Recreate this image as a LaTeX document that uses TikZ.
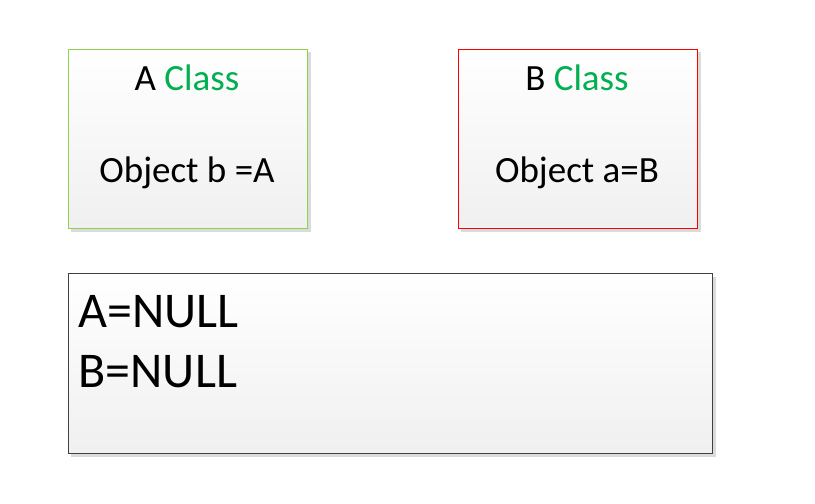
\documentclass[tikz,border=0pt]{standalone}
\usepackage{fontspec}
\setmainfont{Carlito}
\definecolor{classgreen}{HTML}{00B050}
\definecolor{boxgreen}{HTML}{92D050}
\definecolor{boxred}{HTML}{FF0000}
\definecolor{boxgray}{HTML}{404040}
\tikzset{
  panel/.style={top color=white, bottom color=black!6, line width=0.8pt},
  panelshadow/.style={fill=black!14, draw=none},
  midtext/.style={anchor=base, font=\fontsize{37}{44}\selectfont},
  bigtext/.style={anchor=base west, font=\fontsize{50}{60}\selectfont}
}
\begin{document}
\begin{tikzpicture}[x=1pt, y=-1pt]
\useasboundingbox (0,0) rectangle (815,504);

% Shadows behind the boxes
\fill[panelshadow] (71,52) rectangle +(240,180);
\fill[panelshadow] (461,52) rectangle +(240,180);
\fill[panelshadow] (71,277) rectangle +(645,180);

% The two class boxes
\draw[panel, draw=boxgreen] (68,49) rectangle (307,228);
\node[midtext] (aname) at (187,90) {A \textcolor{classgreen}{Class}};
\node[midtext] (aobj) at (187,182) {Object b =A};

\draw[panel, draw=boxred] (458,49) rectangle (697,228);
\node[midtext] (bname) at (577,90) {B \textcolor{classgreen}{Class}};
\node[midtext] (bobj) at (577,182) {Object a=B};

% The box with the values
\draw[panel, draw=boxgray] (68,273) rectangle (712,453);
\node[bigtext] (anull) at (75,327) {A=NULL};
\node[bigtext] (bnull) at (75,387) {B=NULL};
\end{tikzpicture}
\end{document}
